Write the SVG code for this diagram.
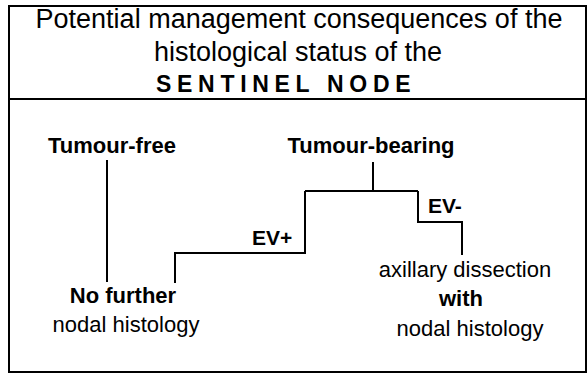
<svg xmlns="http://www.w3.org/2000/svg" width="588" height="375" viewBox="0 0 588 375">
<style>
  text { font-family: "Liberation Sans", Arial, sans-serif; fill: #000; }
  .title { font-size: 27px; text-anchor: middle; }
  .b { font-weight: bold; font-size: 22px; text-anchor: middle; }
  .r { font-size: 22px; text-anchor: middle; }
  .lab { font-weight: bold; font-size: 21px; }
  .ln { fill: none; stroke: #000; stroke-width: 2; }
</style>
<rect x="0" y="0" width="588" height="375" fill="#fff"/>
<g id="frame">
  <rect x="9" y="6" width="577" height="366" class="ln"/>
  <line x1="9" y1="99" x2="586" y2="99" class="ln"/>
</g>
<g id="title">
  <text class="title" x="299" y="28">Potential management consequences of the</text>
  <text class="title" x="298" y="61">histological status of the</text>
  <text x="156" y="92" style="font-weight:bold;font-size:23px;letter-spacing:5.7px">SENTINEL NODE</text>
</g>
<g id="connectors">
  <path class="ln" d="M107 160 V282"/>
  <path class="ln" d="M373 162 V191"/>
  <path class="ln" d="M305 191 H418"/>
  <path class="ln" d="M305 191 V253 H175 V283"/>
  <path class="ln" d="M418 191 V222 H462 V255"/>
</g>
<g id="tumour-free">
  <text class="b" x="112" y="153">Tumour-free</text>
</g>
<g id="tumour-bearing">
  <text class="b" x="371" y="153">Tumour-bearing</text>
</g>
<g id="ev-plus">
  <text class="lab" x="252" y="245">EV+</text>
</g>
<g id="ev-minus">
  <text class="lab" x="428" y="213">EV-</text>
</g>
<g id="no-further">
  <text class="b" x="123" y="303">No further</text>
  <text class="r" x="126" y="332">nodal histology</text>
</g>
<g id="axillary">
  <text class="r" x="465" y="277">axillary dissection</text>
  <text class="b" x="461" y="306">with</text>
  <text class="r" x="470" y="336">nodal histology</text>
</g>
</svg>
